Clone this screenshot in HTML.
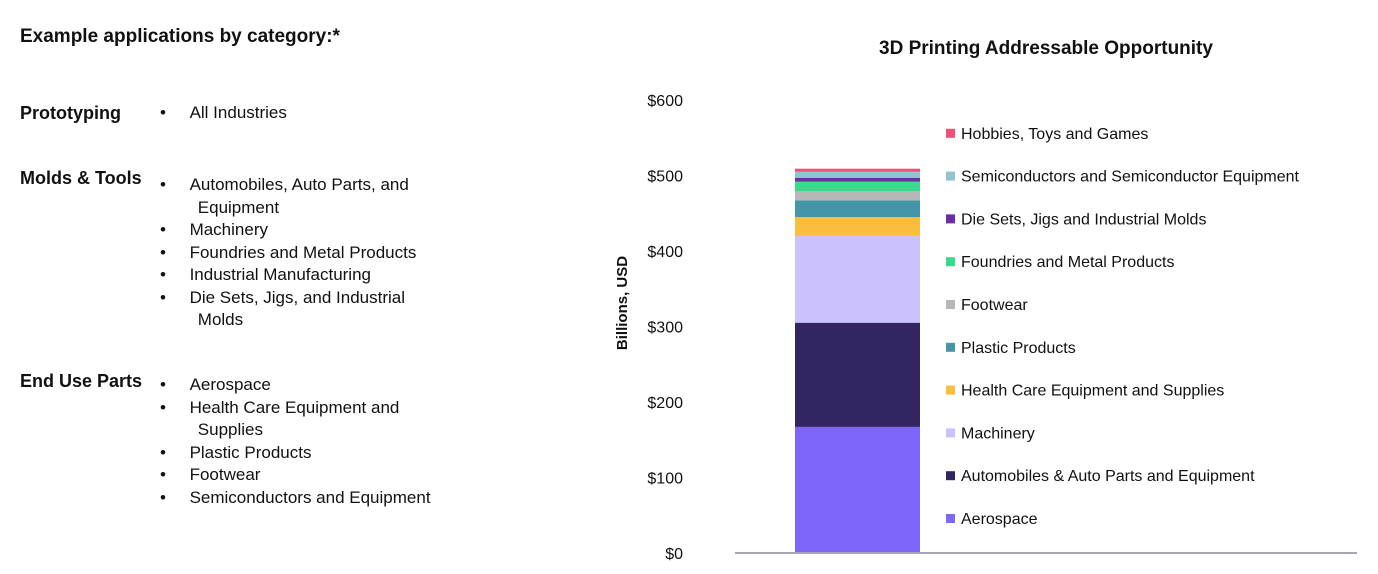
<!DOCTYPE html>
<html><head><meta charset="utf-8"><style>
body{margin:0;width:1378px;height:574px;background:#fff;font-family:"Liberation Sans",sans-serif;color:#111;position:relative;overflow:hidden}
.a{position:absolute;white-space:nowrap}
.h{font-weight:bold;font-size:18px}
.t{font-size:17px}
</style></head><body>
<div class="a" style="left:20px;top:26px;font-size:19px;font-weight:bold">Example applications by category:*</div>
<div class="a h" style="left:20px;top:103px">Prototyping</div>
<div class="a t" style="left:160px;top:103px">•&nbsp;&nbsp;&nbsp;&nbsp;&nbsp;All Industries</div>
<div class="a h" style="left:20px;top:168px">Molds &amp; Tools</div>
<div class="a t" style="left:160px;top:174px;line-height:22.5px">
•&nbsp;&nbsp;&nbsp;&nbsp;&nbsp;Automobiles, Auto Parts, and<br>&nbsp;&nbsp;&nbsp;&nbsp;&nbsp;&nbsp;&nbsp;&nbsp;Equipment<br>•&nbsp;&nbsp;&nbsp;&nbsp;&nbsp;Machinery<br>•&nbsp;&nbsp;&nbsp;&nbsp;&nbsp;Foundries and Metal Products<br>•&nbsp;&nbsp;&nbsp;&nbsp;&nbsp;Industrial Manufacturing<br>•&nbsp;&nbsp;&nbsp;&nbsp;&nbsp;Die Sets, Jigs, and Industrial<br>&nbsp;&nbsp;&nbsp;&nbsp;&nbsp;&nbsp;&nbsp;&nbsp;Molds</div>
<div class="a h" style="left:20px;top:371px">End Use Parts</div>
<div class="a t" style="left:160px;top:374px;line-height:22.5px">
•&nbsp;&nbsp;&nbsp;&nbsp;&nbsp;Aerospace<br>•&nbsp;&nbsp;&nbsp;&nbsp;&nbsp;Health Care Equipment and<br>&nbsp;&nbsp;&nbsp;&nbsp;&nbsp;&nbsp;&nbsp;&nbsp;Supplies<br>•&nbsp;&nbsp;&nbsp;&nbsp;&nbsp;Plastic Products<br>•&nbsp;&nbsp;&nbsp;&nbsp;&nbsp;Footwear<br>•&nbsp;&nbsp;&nbsp;&nbsp;&nbsp;Semiconductors and Equipment</div>
<svg id="chart" width="1378" height="574" style="position:absolute;left:0;top:0" font-family="Liberation Sans, sans-serif"></svg>
<script>
const categories=["Aerospace","Automobiles & Auto Parts and Equipment","Machinery","Health Care Equipment and Supplies","Plastic Products","Footwear","Foundries and Metal Products","Die Sets, Jigs and Industrial Molds","Semiconductors and Semiconductor Equipment","Hobbies, Toys and Games"];
const values=[167,138,115,25,22,12,13,5,8,4];
const colors=["#7f66fb","#322562","#cbc2fd","#fbbd3d","#4495a8","#b7b7b7","#3bd98c","#6a2ea5","#8fc4d0","#ef4f77"];
const ticks=[0,100,200,300,400,500,600];
const svg=document.getElementById('chart');
const NS="http://www.w3.org/2000/svg";
const y0=553,pxPer=0.755;
function y(v){return y0-v*pxPer;}
function mk(tag,attrs){const e=document.createElementNS(NS,tag);for(const k in attrs)e.setAttribute(k,attrs[k]);svg.appendChild(e);return e;}
let t=mk('text',{x:1046,y:54,'text-anchor':'middle','font-size':19,'font-weight':'bold',fill:'#111'});t.textContent="3D Printing Addressable Opportunity";


ticks.forEach(v=>{const e=mk('text',{x:683,y:y(v)+6,'text-anchor':'end','font-size':16,fill:'#111'});e.textContent='$'+v;

});
let yt=mk('text',{transform:'translate(627,303) rotate(-90)','text-anchor':'middle','font-size':15,'font-weight':'bold',fill:'#111'});yt.textContent="Billions, USD";


let cum=0;
values.forEach((v,i)=>{const r=mk('rect',{x:795,y:y(cum+v),width:125,height:v*pxPer,fill:colors[i]});cum+=v;

});
const ax=mk('line',{x1:735,x2:1357,y1:y0,y2:y0,stroke:'#a8a4bc','stroke-width':2});


categories.forEach((c,i)=>{const ly=519-i*42.8;
const s=mk('rect',{x:946,y:ly-5,width:9,height:9,fill:colors[i]});


const tx=mk('text',{x:961,y:ly+5,'font-size':16,fill:'#111'});tx.textContent=c;

});
</script>
</body></html>
